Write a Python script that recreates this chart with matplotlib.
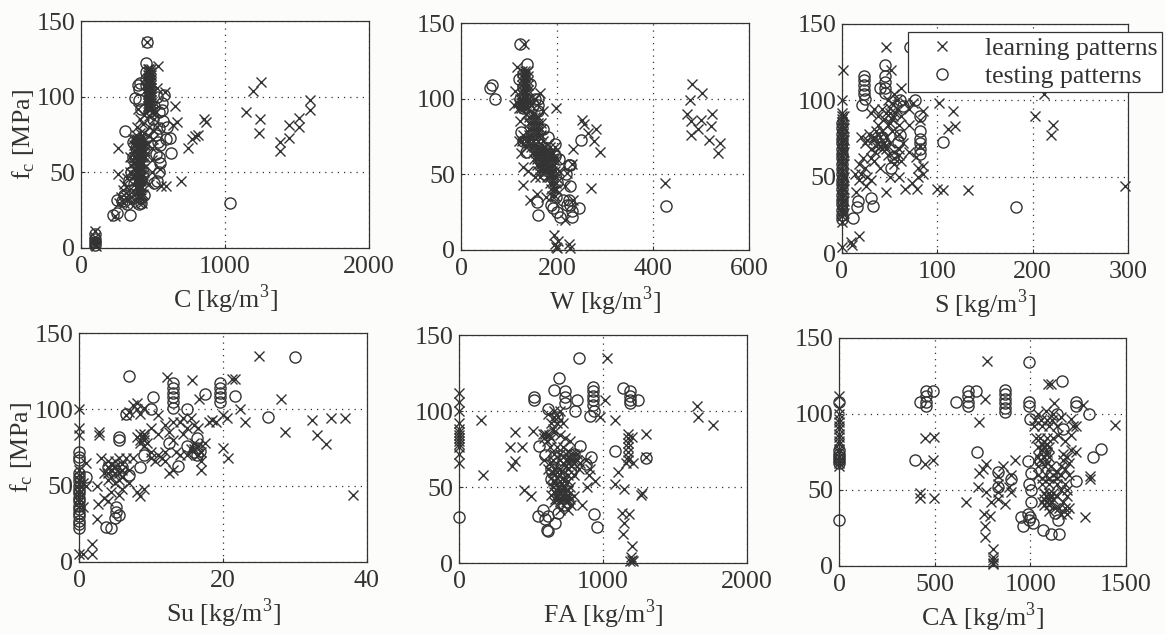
import matplotlib
matplotlib.use('Agg')
import matplotlib.pyplot as plt
import numpy as np

plt.rcParams['font.family'] = ['Liberation Serif', 'DejaVu Serif']
plt.rcParams['mathtext.fontset'] = 'custom'
plt.rcParams['mathtext.rm'] = 'Liberation Serif'

INK = '#333333'

# values, (material, f_c) pairs
c_learn = [(97, 11), (97, 7), (97, 5), (100, 3), (95, 2), (105, 1), (90, 4), (455, 136), (535, 120), (525, 106), (580, 103),
           (650, 94), (670, 83), (640, 81), (855, 85), (870, 83), (815, 75), (790, 74), (770, 72), (745, 66), (695, 44),
           (590, 41), (555, 41), (550, 52), (260, 66), (260, 49), (235, 21), (1145, 90), (1195, 104), (1250, 110),
           (1245, 85), (1235, 76), (1385, 70), (1385, 64), (1445, 81), (1445, 73), (1515, 86), (1515, 80), (1590, 91), (1590, 98),
           (465, 118), (475, 118), (485, 118), (465, 116), (475, 116), (485, 116), (465, 114), (475, 114), (485, 114),
           (465, 112), (475, 112), (485, 112), (465, 110), (475, 110), (485, 110), (465, 108), (475, 108), (485, 108),
           (465, 106), (475, 106), (485, 106), (465, 104), (475, 104), (485, 104), (465, 102), (475, 102), (485, 102),
           (465, 100), (475, 100), (485, 100), (465, 98), (475, 98), (485, 98), (465, 96), (475, 96), (485, 96),
           (465, 94), (475, 94), (485, 94), (465, 92), (475, 92), (485, 92), (395, 92), (490, 90), (520, 90), (510, 85),
           (470, 87), (440, 88), (410, 85), (390, 80), (430, 82), (470, 80), (500, 78), (530, 80), (380, 75), (410, 76),
           (440, 76), (470, 74), (500, 72), (360, 72), (375, 72), (390, 72), (405, 72), (420, 72), (435, 72), (460, 69),
           (490, 66), (370, 68), (385, 68), (400, 68), (415, 68), (430, 68), (445, 68), (370, 64), (385, 64), (400, 64),
           (415, 64), (430, 64), (445, 64), (370, 60), (385, 60), (400, 60), (415, 60), (430, 60), (445, 60), (340, 60),
           (490, 58), (370, 56), (385, 56), (400, 56), (415, 56), (430, 56), (350, 55), (370, 52), (385, 52), (400, 52),
           (415, 52), (430, 52), (340, 50), (495, 50), (370, 48), (385, 48), (400, 48), (415, 48), (430, 48), (320, 46),
           (375, 44), (390, 44), (405, 44), (420, 44), (435, 44), (300, 42), (380, 40), (395, 40), (410, 40), (425, 40),
           (470, 42), (290, 38), (330, 38), (385, 36), (400, 36), (415, 36), (430, 36), (280, 34), (310, 34), (345, 34),
           (390, 33), (420, 33), (265, 30), (300, 30), (340, 30), (400, 30), (425, 30)]
c_test = [(455, 136), (450, 122), (410, 109), (400, 105), (375, 99), (575, 101), (560, 96), (625, 63), (620, 73), (570, 84),
          (305, 77), (600, 80), (1035, 30), (225, 22), (340, 22), (250, 23), (400, 29), (320, 29), (250, 32), (285, 31),
          (525, 44), (505, 43), (550, 56), (540, 60), (545, 79), (560, 91), (97, 6), (97, 9), (97, 4), (97, 2), (450, 116),
          (450, 112), (450, 108), (400, 98), (530, 100), (420, 92), (590, 72), (550, 68), (360, 70), (360, 60), (350, 50),
          (330, 45), (300, 35), (420, 45), (430, 50), (440, 35), (520, 62), (540, 50), (395, 108), (470, 90), (500, 85),
          (520, 75), (380, 66), (395, 58), (410, 52), (370, 42), (345, 38), (360, 33), (420, 30), (540, 90), (510, 94), (535, 70)]

w_learn = [(131, 136), (116, 121), (198, 94), (253, 86), (257, 83), (281, 80), (265, 77), (278, 72), (290, 65), (233, 67),
           (270, 41), (425, 44), (482, 110), (503, 104), (477, 99), (471, 90), (522, 90), (500, 86), (479, 85), (521, 82),
           (494, 80), (480, 76), (517, 73), (540, 71), (536, 64), (194, 10), (203, 6), (224, 4), (198, 2), (200, 1), (195, 4),
           (227, 1), (129, 43), (144, 33), (158, 37), (178, 35), (234, 33), (216, 20), (231, 57), (220, 51), (216, 42), (123, 85),
           (112, 105), (128, 118), (134, 118), (140, 118), (128, 115), (134, 115), (140, 115), (128, 112), (134, 112), (140, 112),
           (128, 109), (134, 109), (140, 109), (128, 106), (134, 106), (140, 106), (128, 103), (134, 103), (140, 103),
           (122, 100), (128, 100), (134, 100), (140, 100), (110, 96), (118, 97), (124, 97), (130, 97), (136, 97), (142, 97),
           (120, 94), (126, 94), (132, 94), (138, 94), (145, 96), (155, 100), (165, 104), (170, 92), (150, 90), (135, 90),
           (120, 72), (130, 76), (142, 88), (148, 88), (154, 88), (160, 88), (142, 84), (148, 84), (154, 84), (160, 84), (166, 84),
           (142, 80), (148, 80), (154, 80), (160, 80), (166, 80), (142, 76), (148, 76), (154, 76), (160, 76), (166, 76),
           (125, 64), (128, 72), (135, 72), (142, 72), (150, 72), (160, 72), (170, 72), (135, 68), (145, 68), (152, 68),
           (158, 68), (164, 68), (170, 68), (176, 68), (185, 68), (195, 68), (130, 55), (150, 64), (156, 64), (162, 64),
           (168, 64), (174, 64), (180, 64), (186, 64), (192, 64), (152, 60), (158, 60), (164, 60), (170, 60), (176, 60), (182, 60),
           (188, 60), (194, 60), (200, 60), (140, 52), (158, 56), (164, 56), (170, 56), (176, 56), (182, 56), (188, 56), (194, 56),
           (160, 52), (166, 52), (172, 52), (178, 52), (184, 52), (190, 52), (196, 52), (205, 52), (155, 48), (165, 48), (180, 48),
           (186, 48), (192, 48), (198, 48), (186, 44), (192, 44), (198, 44), (188, 40), (194, 40), (198, 40), (190, 36), (196, 36)]
w_test = [(122, 136), (138, 123), (64, 109), (60, 107), (71, 100), (120, 113), (144, 110), (154, 100), (161, 96), (182, 75),
          (196, 70), (249, 73), (224, 56), (227, 56), (227, 42), (213, 33), (220, 30), (245, 28), (231, 22), (206, 22), (161, 23),
          (158, 32), (192, 28), (428, 29), (232, 26), (130, 116), (130, 108), (122, 100), (130, 94), (125, 78), (130, 72),
          (170, 80), (180, 64), (205, 60), (200, 45), (197, 35), (188, 30), (145, 88), (160, 92), (135, 65), (125, 96), (150, 76),
          (165, 60), (175, 50), (195, 62), (218, 50), (225, 33), (228, 30), (200, 25), (150, 96), (160, 100), (140, 72)]

s_learn = [(1, 120), (0, 100), (46, 135), (51, 120), (102, 98), (116, 93), (85, 93), (119, 83), (111, 81), (202, 90), (221, 84),
           (219, 77), (212, 104), (297, 44), (132, 41), (106, 41), (100, 42), (79, 42), (73, 46), (66, 42), (46, 40), (0, 4), (9, 7),
           (18, 11), (10, 5), (85, 57), (80, 56), (78, 63), (0, 92), (0, 90), (0, 88), (0, 86), (0, 84), (0, 82), (0, 80), (0, 78),
           (0, 76), (0, 74), (0, 72), (0, 70), (0, 68), (0, 66), (0, 64), (0, 62), (0, 60), (0, 58), (0, 56), (0, 54), (0, 52), (0, 50),
           (0, 48), (0, 46), (0, 44), (0, 42), (0, 40), (0, 38), (0, 36), (0, 34), (0, 32), (0, 30), (0, 28), (0, 26), (0, 24), (0, 20),
           (2, 90), (2, 82), (2, 74), (2, 66), (2, 58), (2, 50), (2, 42), (2, 34), (2, 26),
           (20, 76), (24, 72), (28, 78), (32, 74), (36, 80), (40, 76), (44, 72), (30, 68), (35, 66), (42, 68), (48, 64),
           (55, 66), (60, 64), (22, 62), (18, 58), (14, 52), (20, 52), (26, 50), (30, 48), (25, 44), (15, 40), (55, 58),
           (50, 50), (60, 50), (30, 92), (34, 94), (38, 90), (42, 94), (46, 92), (50, 95), (54, 90), (58, 94), (62, 90),
           (48, 100), (55, 104), (62, 108), (60, 84), (48, 84), (52, 80), (60, 78), (64, 72), (70, 94), (50, 72), (38, 84),
           (82, 87), (82, 70), (70, 66), (34, 60), (40, 56), (80, 50), (85, 52), (26, 74), (34, 76), (38, 72), (42, 80), (46, 76),
           (46, 68), (52, 88), (56, 92), (50, 92), (44, 88), (52, 98), (58, 100), (66, 98), (74, 98), (30, 62), (24, 56), (18, 48),
           (50, 85), (45, 70), (40, 70), (36, 70), (60, 68), (62, 60), (55, 62), (70, 84)]
s_test = [(0, 85), (0, 82), (0, 78), (0, 75), (0, 72), (0, 68), (0, 65), (0, 62), (0, 58), (0, 55), (0, 52), (0, 48), (0, 45), (0, 42),
          (0, 38), (0, 35), (0, 32), (0, 28), (0, 25), (0, 22), (23, 116), (23, 113), (23, 110), (23, 107), (23, 104), (45, 123),
          (45, 116), (45, 112), (45, 108), (45, 105), (40, 108), (21, 97), (24, 101), (61, 100), (77, 100), (64, 96), (82, 90), (82, 80),
          (82, 75), (82, 72), (82, 68), (82, 65), (61, 77), (59, 73), (54, 63), (51, 56), (106, 73), (183, 30), (12, 23), (16, 30), (17, 34),
          (30, 36), (32, 31), (42, 76), (71, 135)]

su_learn = [(25, 135), (12.2, 121), (15.7, 119), (21.2, 120), (21.7, 120), (28, 107), (16.6, 107), (22.3, 100), (23, 92), (32.4, 93),
            (35, 94.5), (37, 94), (28.6, 85), (33, 83), (34.3, 77), (38, 44), (20, 75), (20.7, 68), (2.8, 85), (2.8, 83), (0, 100),
            (0, 88), (0, 83), (0, 5), (0.6, 5), (1.8, 12), (1.8, 5), (2.5, 28), (2.5, 50), (2.7, 38),
            (0, 60), (0, 57), (0, 54), (0, 51), (0, 48), (0, 45), (0, 42), (0, 39), (0, 36), (0.5, 52), (0.5, 36), (1, 65), (1, 50),
            (3, 68), (4, 66), (3.5, 58), (4, 54), (4.5, 60), (5, 62), (5.5, 58), (6, 64), (5, 52), (4.5, 46), (5.5, 44), (4, 40),
            (3.5, 42), (6, 48), (7, 60), (7.5, 68), (7, 52), (8, 46), (8.5, 43), (9, 48), (6.5, 96), (7, 98), (7.5, 103), (8, 100),
            (8.5, 97), (8, 104), (9, 101), (8, 82), (9, 80), (8.5, 84), (9.5, 78), (9, 76), (10, 72), (10.5, 66), (11, 70),
            (10, 88), (11, 84), (11.5, 68), (12, 90), (12.5, 85), (13, 80), (12, 66), (12.5, 58), (13, 60), (13.5, 72),
            (14, 92), (14.5, 84), (15, 88), (15.5, 94), (16, 90), (16.5, 88), (16, 78), (16.5, 70), (17, 66), (17, 60),
            (17.5, 78), (18, 92), (18.5, 93), (19, 92), (20, 96), (20.5, 94), (15, 70), (15.5, 74), (14, 70), (11, 96),
            (4, 62), (4.5, 64), (5, 66), (5.5, 68), (4, 58), (5, 58), (6, 60), (4.5, 56), (5.5, 54), (6.5, 68), (6, 56), (9, 82),
            (8.5, 80), (9, 84), (8.5, 78), (16, 74), (16.5, 76), (17, 72), (14.5, 94), (13, 92), (12, 72), (10, 68)]
su_test = [(7, 122), (30, 134), (13, 117), (13, 114), (13, 111), (13, 108), (13, 105), (13, 101), (19.6, 117), (19.6, 114), (19.6, 111),
           (19.6, 108), (19.6, 105), (21.6, 109), (17.5, 110), (10.3, 108), (26.3, 95), (10, 100), (15, 100), (12.5, 78), (13.8, 63),
           (15, 76), (16.4, 81), (16.4, 75), (16.4, 70), (5.5, 82), (3.8, 23), (4.4, 22), (5.2, 33), (5, 29), (5.5, 31), (0, 72), (0, 69), (0, 67),
           (0, 58), (0, 56), (0, 53), (0, 50), (0, 47), (0, 45), (0, 42), (0, 40), (0, 37), (0, 35), (0, 32), (0, 30), (0, 27), (0, 25), (0, 22), (1, 56),
           (5, 60), (6, 62), (7, 57), (8.5, 62), (9, 70), (6.5, 97), (4, 62), (5.5, 80), (5.2, 36), (16, 72), (16.8, 73)]

fa_learn = [(1025, 135), (150, 94), (392, 86), (515, 87), (353, 76), (438, 76), (387, 67), (371, 64), (167, 58), (450, 48), (497, 44),
            (0, 112), (0, 106), (0, 100), (0, 92), (0, 88), (0, 86), (0, 84), (0, 82), (0, 80), (0, 78), (0, 76), (0, 72), (0, 66), (1014, 107),
            (979, 96), (1083, 94), (1107, 60), (1083, 52), (1146, 49), (1130, 33), (1181, 32), (1146, 26), (1141, 19), (1204, 11), (1195, 4),
            (1200, 2), (1210, 1), (1190, 1), (1269, 46), (1265, 45), (1300, 85), (1204, 83), (1172, 85), (1172, 82), (1172, 79), (1172, 76),
            (1172, 73), (1172, 70), (1172, 68), (1160, 66), (1211, 66), (1652, 103), (1659, 96), (1763, 91), (1300, 70), (886, 50), (944, 54),
            (851, 38), (620, 98), (660, 96), (700, 100), (640, 92), (680, 92), (720, 92), (660, 100), (690, 96), (650, 88), (600, 85), (625, 84),
            (660, 86), (700, 84), (735, 82), (770, 80), (630, 76), (680, 76), (720, 76), (760, 74), (800, 72), (590, 68), (650, 68), (700, 68),
            (740, 68), (780, 68), (820, 68), (880, 68), (620, 62), (660, 62), (700, 62), (740, 64), (780, 64), (830, 62), (910, 62), (640, 56),
            (680, 56), (720, 56), (760, 58), (800, 58), (900, 58), (650, 50), (690, 50), (730, 50), (770, 50), (640, 45), (680, 45), (720, 45),
            (760, 45), (800, 44), (660, 40), (700, 40), (740, 40), (780, 38), (700, 35), (760, 35), (660, 72), (700, 72), (740, 72), (780, 72),
            (820, 72), (760, 68), (800, 68), (720, 66), (760, 62), (800, 66), (840, 66), (630, 66), (650, 60), (680, 60), (710, 60), (650, 54),
            (670, 54), (700, 54), (730, 54), (760, 54), (660, 47), (680, 48), (700, 48), (720, 48), (740, 48), (760, 48), (670, 42), (690, 42),
            (710, 42), (730, 42), (750, 42), (770, 42), (580, 85), (590, 82), (610, 80), (640, 82)]
fa_test = [(833, 135), (696, 122), (659, 114), (522, 107), (522, 109), (933, 116), (933, 113), (933, 110), (933, 107), (933, 104),
           (1188, 113), (1188, 110), (1188, 107), (1188, 105), (1141, 115), (1246, 107), (735, 113), (735, 109), (735, 105), (817, 107),
           (805, 100), (910, 97), (940, 100), (1083, 74), (1300, 69), (557, 77), (596, 71), (840, 77), (914, 70), (0, 30), (940, 32),
           (960, 24), (550, 31), (585, 35), (608, 22), (620, 21), (666, 26), (596, 29), (620, 31), (620, 101), (678, 96), (640, 55),
           (780, 60), (700, 45), (880, 65), (660, 70), (760, 40), (690, 33), (640, 62), (720, 68), (800, 72), (680, 50), (730, 38)]

ca_learn = [(0, 112), (0, 104), (0, 100), (0, 97), (0, 95), (0, 92), (0, 90), (0, 87), (0, 85), (0, 82), (0, 80), (0, 77), (0, 75), (0, 72), (0, 70),
            (0, 68), (0, 66), (772, 135), (765, 110), (734, 95), (450, 84), (494, 85), (450, 67), (490, 70), (421, 48), (421, 45), (499, 45), (664, 42),
            (729, 52), (769, 49), (795, 42), (760, 34), (790, 33), (763, 26), (763, 19), (803, 11), (803, 6), (803, 4), (803, 2), (803, 1), (922, 70),
            (868, 41), (734, 61), (751, 64), (769, 67), (859, 66), (899, 60), (890, 52), (899, 49), (830, 59), (830, 54), (830, 49), (830, 44), (1443, 93),
            (1287, 32), (1313, 59), (1313, 57), (1090, 120), (1107, 120), (1125, 107), (1273, 106),
            (1040, 100), (1080, 102), (1120, 100), (1160, 98), (1210, 97), (1020, 92), (1060, 92), (1100, 92), (1140, 92), (1240, 92),
            (1050, 84), (1085, 84), (1120, 84), (1180, 82), (1040, 78), (1070, 78), (1100, 78), (1210, 76), (1240, 75), (1040, 72),
            (1070, 72), (1100, 72), (1040, 66), (1075, 66), (1110, 66), (1160, 66), (1200, 68), (1040, 60), (1080, 60), (1120, 60),
            (1160, 60), (1200, 60), (1060, 54), (1100, 54), (1140, 54), (1180, 54), (1070, 48), (1095, 48), (1120, 48), (1190, 46),
            (1070, 44), (1095, 44), (1120, 44), (1170, 42), (1070, 40), (1095, 40), (1130, 38), (1200, 38), (1160, 34), (1190, 34),
            (1030, 84), (1060, 80), (1085, 80), (1060, 76), (1085, 75), (1050, 70), (1085, 68), (1025, 96), (1055, 96), (1085, 96), (1115, 96),
            (1145, 86), (1170, 74), (1170, 70), (1190, 72), (1140, 62), (1180, 64), (1060, 58), (1100, 58), (1140, 58), (1190, 50), (1160, 50),
            (1100, 36), (1150, 38), (1180, 38), (1140, 46), (1080, 46), (1105, 46), (1060, 42), (1085, 42), (1110, 42), (1225, 92), (1215, 86)]
ca_test = [(995, 134), (1165, 122), (490, 115), (717, 115), (673, 115), (673, 112), (673, 108), (673, 105), (612, 108), (455, 115), (455, 112), (455, 108),
           (455, 105), (421, 108), (870, 116), (870, 113), (870, 110), (870, 107), (870, 104), (865, 101), (991, 108), (991, 105), (1000, 97), (1238, 108),
           (1238, 105), (1308, 100), (1369, 77), (1330, 72), (1238, 56), (720, 75), (395, 70), (0, 30), (986, 69), (1005, 61), (995, 54), (1005, 42),
           (1005, 50), (951, 32), (960, 26), (995, 30), (1012, 28), (1065, 24), (1108, 21), (1151, 21), (1143, 30), (900, 57), (0, 76), (0, 74), (0, 72), (0, 70),
           (0, 68), (0, 108), (830, 62), (830, 52), (1075, 76), (1110, 60), (1050, 70), (1170, 90), (1140, 100), (1000, 32), (990, 34), (1130, 35)]

x_labels = ['C', 'W', 'S', 'Su', 'FA', 'CA']
x_limits = [2000, 600, 300, 40, 2000, 1500]
x_ticks = [[0, 1000, 2000], [0, 200, 400, 600], [0, 100, 200, 300], [0, 20, 40], [0, 1000, 2000], [0, 500, 1000, 1500]]
y_ticks = [0, 50, 100, 150]
learn_sets = [c_learn, w_learn, s_learn, su_learn, fa_learn, ca_learn]
test_sets = [c_test, w_test, s_test, su_test, fa_test, ca_test]

# left, right, top, bottom of each frame in pixels
boxes = [(81, 369, 21, 248), (461, 749, 23, 250), (842, 1128, 24, 253),
         (79, 367, 333, 562), (459, 747, 335, 563), (839, 1126, 338, 566)]

W, H = 1166, 634
fig = plt.figure(figsize=(W / 100, H / 100), dpi=100, facecolor='#fcfcfb')

for i in range(6):
    l, r, t, b = boxes[i]
    ax = fig.add_axes([l / W, 1 - b / H, (r - l) / W, (b - t) / H])
    lx, ly = np.array(learn_sets[i]).T
    tx, ty = np.array(test_sets[i]).T
    ax.plot(lx, ly, 'x', color=INK, ms=6.5, mew=1.0, clip_on=False, label='learning patterns')
    ax.plot(tx, ty, 'o', mfc='none', mec=INK, ms=8, mew=1.0, clip_on=False, label='testing patterns')
    ax.set_xlim(0, x_limits[i])
    ax.set_ylim(0, 150)
    ax.set_xticks(x_ticks[i])
    ax.set_yticks(y_ticks)
    ax.tick_params(direction='in', length=3, width=0.8, color=INK, labelcolor=INK, labelsize=18.7, pad=4)
    ax.tick_params(axis='x', pad=6)
    ax.grid(True, linestyle=(0, (1, 4)), color=INK, linewidth=0.9)
    ax.set_axisbelow(True)
    for s in ax.spines.values():
        s.set_linewidth(0.9)
        s.set_color(INK)
    ax.set_xlabel(x_labels[i] + r' [kg/m$^{3}$]', fontsize=18.7, color=INK, labelpad=3)
    if i % 3 == 0:
        ax.set_ylabel(r'f$_{\mathrm{c}}$ [MPa]', fontsize=18.7, color=INK, labelpad=0)
    if i == 2:
        leg = ax.legend(loc='upper right', bbox_to_anchor=(1162 / W, 1 - 32 / H), bbox_transform=fig.transFigure,
                        fontsize=18.5, fancybox=False, framealpha=1, edgecolor=INK, borderaxespad=0, labelcolor=INK,
                        handletextpad=0.5, labelspacing=0.2, borderpad=0.18, numpoints=1, handlelength=2.3)
        leg.get_frame().set_linewidth(0.9)

fig.savefig('out.png', dpi=100, facecolor=fig.get_facecolor())
plt.close(fig)
